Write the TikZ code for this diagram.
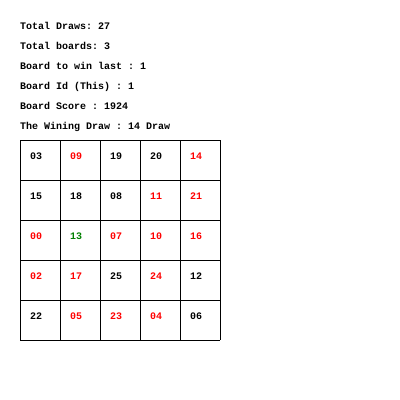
\documentclass[tikz,border=0pt]{standalone}
\usepackage{fontspec}
\setmonofont{Liberation Mono}
\definecolor{hitred}{RGB}{255,0,0}
\definecolor{wingreen}{RGB}{0,128,0}

\begin{document}
\begin{tikzpicture}[x=1pt,y=-1pt,font=\ttfamily\bfseries\fontsize{10}{12}\selectfont,
    info/.style={anchor=base west,inner sep=0pt},
    num/.style={anchor=base west,inner sep=0pt}]
    \useasboundingbox (0,0) rectangle (400,400);
    \node[info] (draws) at (20,29) {Total Draws: 27};
    \node[info] (boards) at (20,49) {Total boards: 3};
    \node[info] (last) at (20,69) {Board to win last : 1};
    \node[info] (id) at (20,89) {Board Id (This) : 1};
    \node[info] (score) at (20,109) {Board Score : 1924};
    \node[info] (windraw) at (20,129) {The Wining Draw : 14 Draw};
    \foreach \i in {0,...,5} {
        \draw[line width=1pt] (20+40*\i,140) -- (20+40*\i,340);
        \draw[line width=1pt] (20,140+40*\i) -- (220,140+40*\i);
    }
    \foreach \n/\c/\col/\row in {03/black/0/0,09/hitred/1/0,19/black/2/0,20/black/3/0,14/hitred/4/0,
        15/black/0/1,18/black/1/1,08/black/2/1,11/hitred/3/1,21/hitred/4/1,
        00/hitred/0/2,13/wingreen/1/2,07/hitred/2/2,10/hitred/3/2,16/hitred/4/2,
        02/hitred/0/3,17/hitred/1/3,25/black/2/3,24/hitred/3/3,12/black/4/3,
        22/black/0/4,05/hitred/1/4,23/hitred/2/4,04/hitred/3/4,06/black/4/4}
        \node[num,text=\c] (cell-\row-\col) at (30+40*\col,159+40*\row) {\n};
\end{tikzpicture}
\end{document}
